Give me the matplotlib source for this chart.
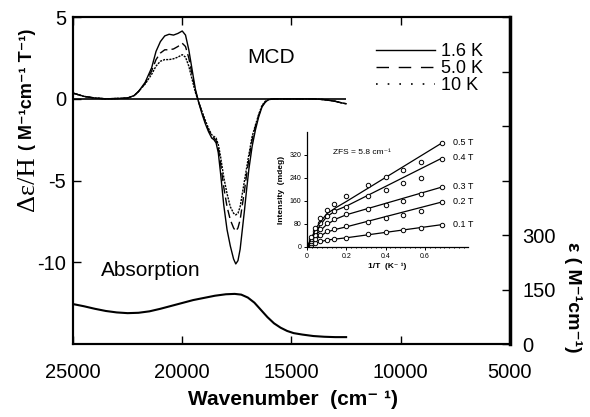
import matplotlib
matplotlib.use('Agg')
import matplotlib.pyplot as plt
from matplotlib.lines import Line2D
from matplotlib.ticker import MultipleLocator

plt.rcParams['font.family'] = ['Liberation Sans', 'DejaVu Sans']
plt.rcParams['axes.unicode_minus'] = False

# MCD spectra (wavenumber in cm-1, delta eps / H)
wn = [25000, 24500, 24000, 23500, 23000, 22500, 22200, 22000, 21700, 21400,
      21200, 21000, 20800, 20600, 20400, 20200, 20000, 19850, 19700, 19550,
      19400, 19250, 19100, 18950, 18800, 18650, 18550, 18450, 18350, 18250,
      18100, 17950, 17800, 17650, 17550, 17450, 17350, 17250, 17150, 17050,
      16950, 16800, 16650, 16500, 16350, 16200, 16050, 15800, 15000, 14000,
      13500, 13000, 12700, 12500]
mcd_16K = [0.35, 0.15, 0.05, 0.0, 0.02, 0.05, 0.2, 0.45, 1.0, 1.9,
           2.9, 3.5, 3.85, 3.95, 3.9, 4.0, 4.15, 3.9, 3.0, 1.8,
           0.6, -0.2, -0.9, -1.5, -2.0, -2.4, -2.5, -2.7, -3.3, -4.5,
           -6.5, -8.0, -9.0, -9.8, -10.1, -9.9, -9.2, -8.0, -6.8, -5.5,
           -4.3, -2.9, -1.9, -1.1, -0.5, -0.2, -0.05, 0.0, 0.0, 0.0,
           -0.05, -0.15, -0.25, -0.3]
mcd_50K = [0.35, 0.15, 0.05, 0.0, 0.02, 0.05, 0.2, 0.45, 0.95, 1.7,
           2.4, 2.8, 3.0, 3.0, 3.05, 3.2, 3.4, 3.2, 2.5, 1.5,
           0.5, -0.2, -0.8, -1.4, -1.9, -2.3, -2.4, -2.55, -3.0, -3.9,
           -5.4, -6.6, -7.4, -7.9, -8.1, -7.9, -7.4, -6.5, -5.6, -4.6,
           -3.7, -2.5, -1.7, -1.0, -0.45, -0.2, -0.05, 0.0, 0.0, 0.0,
           -0.05, -0.15, -0.25, -0.3]
mcd_10K = [0.35, 0.15, 0.05, 0.0, 0.02, 0.05, 0.2, 0.45, 0.9, 1.5,
           2.0, 2.3, 2.4, 2.4, 2.45, 2.55, 2.7, 2.55, 2.0, 1.2,
           0.4, -0.2, -0.75, -1.3, -1.8, -2.2, -2.3, -2.4, -2.8, -3.5,
           -4.8, -5.8, -6.6, -7.0, -7.1, -7.0, -6.6, -5.8, -5.0, -4.2,
           -3.4, -2.3, -1.6, -0.95, -0.4, -0.15, -0.05, 0.0, 0.0, 0.0,
           -0.05, -0.15, -0.25, -0.3]

# absorption spectrum (eps, M-1 cm-1)
abs_wn = [25000, 24500, 24000, 23500, 23000, 22500, 22000, 21500, 21000, 20500,
          20000, 19500, 19000, 18500, 18000, 17600, 17300, 17000, 16700, 16400,
          16100, 15800, 15500, 15200, 14900, 14500, 14000, 13500, 13000, 12500]
abs_eps = [110, 104, 97, 91, 87, 85, 86, 90, 97, 105,
           113, 121, 127, 133, 137, 138, 136, 128, 114, 94,
           74, 57, 45, 36, 30, 26, 22, 20, 19, 19]

# inset: VTVH intensities vs 1/T
inv_T = [0.02, 0.04, 0.067, 0.1, 0.14, 0.2, 0.31, 0.4, 0.49, 0.58, 0.69]
int_01 = [8, 14, 20, 25, 28, 32, 45, 52, 59, 66, 77]
int_02 = [15, 28, 42, 55, 62, 72, 88, 101, 112, 125, 157]
int_03 = [22, 42, 62, 82, 98, 115, 132, 145, 160, 184, 209]
int_04 = [28, 55, 82, 108, 125, 140, 176, 198, 221, 239, 305]
int_05 = [34, 66, 100, 130, 150, 176, 216, 245, 268, 294, 363]
fit_x = [0, 0.05, 0.1, 0.15, 0.2, 0.69]
fit_01 = [0, 15, 24, 28, 32, 78]
fit_02 = [0, 30, 52, 62, 70, 157]
fit_03 = [0, 45, 78, 98, 112, 209]
fit_04 = [0, 60, 105, 128, 142, 310]
fit_05 = [0, 70, 115, 138, 158, 363]
fields = ['0.1 T', '0.2 T', '0.3 T', '0.4 T', '0.5 T']

fig = plt.figure(figsize=(5.9, 4.17), dpi=100)
ax = fig.add_axes([0.1237, 0.175, 0.7407, 0.784])
ax2 = ax.twinx()

ax.plot(wn, mcd_16K, color='black', lw=1.0)
ax.plot(wn, mcd_50K, color='black', lw=1.0, ls=(0, (6, 3)))
ax.plot(wn, mcd_10K, color='black', lw=1.0, ls=(0, (1.5, 0.8)))
ax.hlines(0, wn[0], wn[-1], color='black', lw=1.2)
ax2.plot(abs_wn, abs_eps, color='black', lw=1.5)

ax.set_xlim(25000, 5000)
ax.set_ylim(-15, 5)
ax.set_xticks([25000, 20000, 15000, 10000, 5000])
ax.set_yticks([5, 0, -5, -10])
ax.tick_params(axis='x', direction='in', top=True, length=6, width=1,
               labelsize=14.5, pad=14)
ax.tick_params(axis='y', direction='in', length=6, width=1, labelsize=14.5, pad=5)

ax2.set_ylim(0, 900)
ax2.set_yticks([0, 150, 300, 450, 600, 750, 900])
ax2.set_yticklabels(['0', '150', '300', '', '', '', ''])
ax2.tick_params(axis='y', direction='in', length=6, width=1, labelsize=14.5, pad=9)

for s in ax.spines.values():
    s.set_linewidth(1.5)
for s in ax2.spines.values():
    s.set_linewidth(1.5)
ax2.spines['right'].set_linewidth(2.5)

ax.text(0.453, 0.875, 'MCD', transform=ax.transAxes, fontsize=15,
        ha='center', va='center')
ax.text(0.178, 0.226, 'Absorption', transform=ax.transAxes, fontsize=15,
        ha='center', va='center')

handles = [Line2D([], [], color='black', lw=1.0),
           Line2D([], [], color='black', lw=1.0, ls=(0, (9, 7))),
           Line2D([], [], color='black', lw=1.2, ls=(0, (1, 6)))]
ax.legend(handles, ['1.6 K', '5.0 K', '10 K'], loc='upper left',
          bbox_to_anchor=(0.672, 0.948), frameon=False, fontsize=13,
          handlelength=3.3, handletextpad=0.3, labelspacing=0.0, borderpad=0)

# left axis label: serif part and bold sans part
fig.text(0.047, 0.559, 'Δε/H', rotation=90, ha='center', va='center',
         fontsize=19, family=['Liberation Serif', 'DejaVu Serif'])
fig.text(0.047, 0.787, '( M⁻¹cm⁻¹ T⁻¹)', rotation=90, ha='center',
         va='center', fontsize=13, fontweight='bold')
fig.text(0.971, 0.288, 'ε ( M⁻¹cm⁻¹)', rotation=270, ha='center',
         va='center', fontsize=14, fontweight='bold')
fig.text(0.497, 0.041, 'Wavenumber  (cm⁻ ¹)', ha='center', va='center',
         fontsize=15, fontweight='bold')

# inset
axin = fig.add_axes([0.5203, 0.4077, 0.2729, 0.2758])
axin.set_facecolor('none')
series = [int_01, int_02, int_03, int_04, int_05]
fits = [fit_01, fit_02, fit_03, fit_04, fit_05]
for vals, fit, lab in zip(series, fits, fields):
    axin.plot(fit_x, fit, color='black', lw=0.9)
    axin.plot(inv_T, vals, 'o', ms=3.2, mfc='white', mec='black', mew=0.7)
    axin.text(0.745, fit[-1], lab, fontsize=6.5, va='center', ha='left')
axin.text(0.135, 327, 'ZFS = 5.8 cm⁻¹', fontsize=6, va='center', ha='left')
axin.set_xlim(0, 0.82)
axin.set_ylim(0, 400)
axin.set_xticks([0, 0.2, 0.4, 0.6])
axin.set_xticklabels(['0', '0.2', '0.4', '0.6'])
axin.set_yticks([0, 80, 160, 240, 320])
axin.xaxis.set_minor_locator(MultipleLocator(0.025))
axin.tick_params(which='both', direction='out', length=2, width=0.7,
                 labelsize=5, pad=2)
axin.tick_params(which='minor', length=1)
axin.spines['top'].set_visible(False)
axin.spines['right'].set_visible(False)
for s in ['left', 'bottom']:
    axin.spines[s].set_linewidth(0.9)
axin.set_xlabel('1/T  (K⁻ ¹)', fontsize=6, fontweight='bold', labelpad=2)
axin.set_ylabel('Intensity  (mdeg)', fontsize=6, fontweight='bold', labelpad=3)

fig.savefig('out.png', dpi=100)
